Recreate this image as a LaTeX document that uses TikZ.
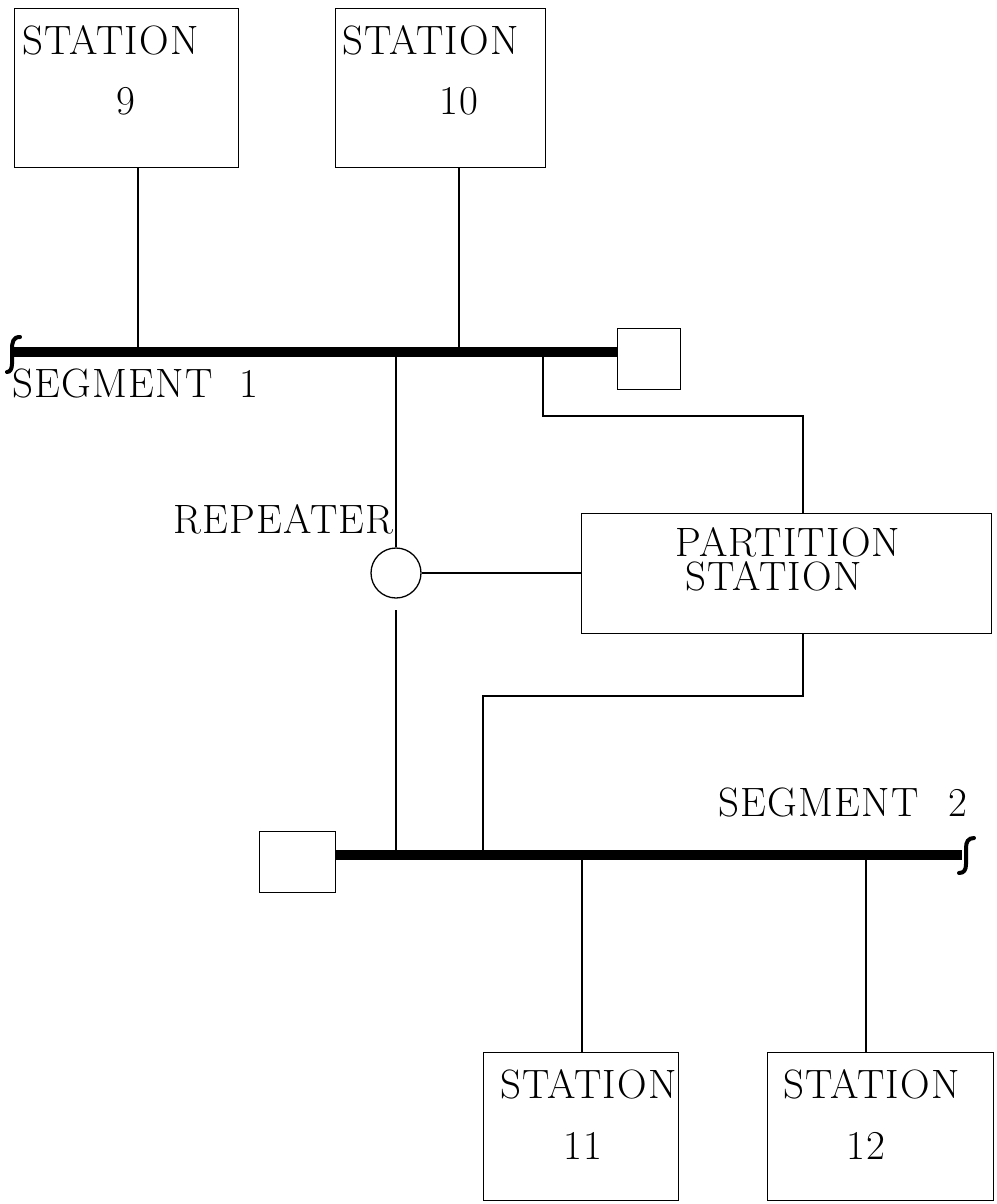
\documentclass[tikz,border=0pt]{standalone}
\usepackage{fontspec}
\setmainfont{Latin Modern Roman}[LetterSpace=3.0]
\begin{document}
\begin{tikzpicture}[x=1pt,y=-1pt,
  box/.style={draw, line width=1.3pt, inner sep=0pt, anchor=north west},
  wire/.style={line width=1.3pt},
  bus/.style={line width=10.5pt},
  curl/.style={line width=4pt, line cap=round},
  lbl/.style={font=\fontsize{41}{34}\selectfont, inner sep=0pt}]
\useasboundingbox (0,0) rectangle (996,1204);
% station boxes
\node[box, minimum width=224, minimum height=159] (s9) at (14,8) {};
\node[box, minimum width=210, minimum height=159] (s10) at (335,8) {};
\node[box, minimum width=195, minimum height=148] (s11) at (483,1052) {};
\node[box, minimum width=226, minimum height=148] (s12) at (767,1052) {};
\node[box, minimum width=63, minimum height=61] (t1) at (617,328) {};
\node[box, minimum width=76, minimum height=61] (t2) at (259,831) {};
\node[box, minimum width=410, minimum height=120] (part) at (581,513) {};
\node[draw, line width=1.3pt, circle, minimum size=50pt, inner sep=0pt] (rep) at (396,573) {};
% texts
\node[lbl, anchor=base west] (s9a) at (22,55) {STATION};
\node[lbl, anchor=base] (s9b) at (126,114) {9};
\node[lbl, anchor=base west] (s10a) at (342,55) {STATION};
\node[lbl, anchor=base] (s10b) at (459,114) {10};
\node[lbl, anchor=base west] (s11a) at (500,1098) {STATION};
\node[lbl, anchor=base] (s11b) at (583,1159) {11};
\node[lbl, anchor=base west] (s12a) at (783,1098) {STATION};
\node[lbl, anchor=base] (s12b) at (866,1159) {12};
\node[lbl, anchor=north west, align=left] (pa) at (675,527) {PARTITION\\\hspace*{10pt}STATION};
\node[lbl, anchor=base west] (seg1) at (12,397) {SEGMENT\hspace{27pt}1};
\node[lbl, anchor=base east] (seg2) at (968,816) {SEGMENT\hspace{30pt}2};
\node[lbl, anchor=base east] (rept) at (394,533) {REPEATER};
% bus coordinates
\coordinate (b1l) at (14,352);
\coordinate (b1r) at (617,352);
\coordinate (b1a) at (138,352);
\coordinate (b1b) at (459,352);
\coordinate (b1c) at (396,352);
\coordinate (b1d) at (543,352);
\coordinate (b2l) at (335,855);
\coordinate (b2r) at (962,855);
\coordinate (b2a) at (396,855);
\coordinate (b2b) at (483,855);
\coordinate (b2c) at (582,855);
\coordinate (b2d) at (866,855);
\coordinate (ptop) at (803,513);
\coordinate (pbot) at (803,633);
\coordinate (repb) at (396,610);
% buses
\draw[bus] (b1l) -- (b1r);
\draw[bus] (b2l) -- (b2r);
\draw[curl] (20,337) .. controls (13,337) and (12,342) .. (12,350) -- (12,364) .. controls (12,369) and (10,372) .. (7,372);
\draw[curl] (974,838) .. controls (968,838) and (966,842) .. (966,848) -- (966,864) .. controls (966,870) and (964,873) .. (959,873);
% wires
\draw[wire] (s9.south -| b1a) -- (b1a);
\draw[wire] (s10.south -| b1b) -- (b1b);
\draw[wire] (b1c) -- (rep.north);
\draw[wire] (repb) -- (b2a);
\draw[wire] (rep.east) -- (rep.east -| part.west);
\draw[wire] (b1d) -- (543,416) -| (ptop);
\draw[wire] (pbot) -- (803,696) -| (b2b);
\draw[wire] (b2c) -- (s11.north -| b2c);
\draw[wire] (b2d) -- (s12.north -| b2d);
\end{tikzpicture}
\end{document}
